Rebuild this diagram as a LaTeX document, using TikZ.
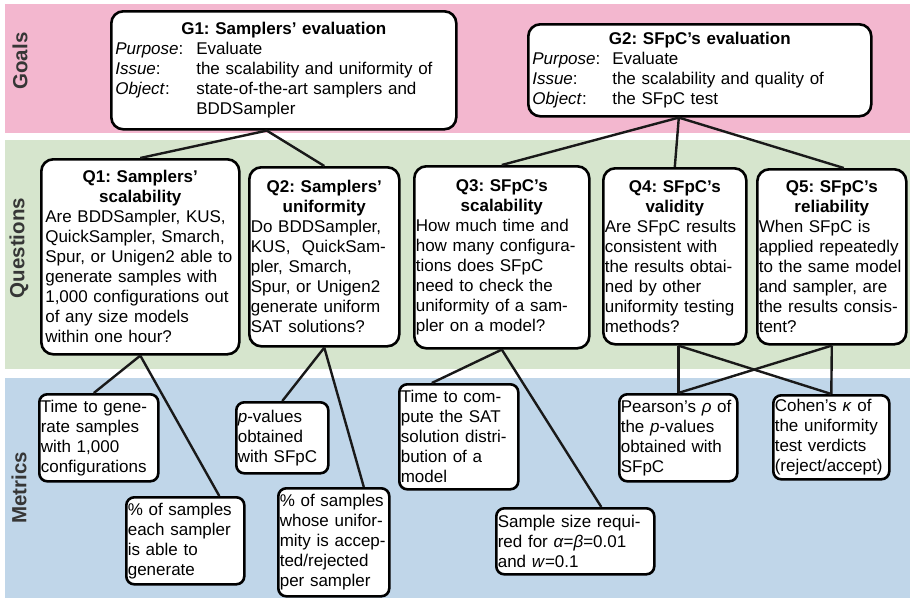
\documentclass[tikz,border=0pt]{standalone}
\usepackage{fontspec}
\setmainfont{Liberation Sans}
\definecolor{goalpink}{HTML}{F3B7CF}
\definecolor{questgreen}{HTML}{D6E5CD}
\definecolor{metricblue}{HTML}{C0D6E9}
\definecolor{bandgray}{HTML}{363636}
\usepackage{tikz}
\frenchspacing

\begin{document}
\begin{tikzpicture}[x=1pt, y=-1pt,
    font=\fontsize{17}{20}\selectfont,
    band/.style={rotate=90, text=bandgray, font=\fontsize{20.5}{24}\selectfont\bfseries},
    box/.style={draw, line width=2.6pt, rounded corners=12pt, fill=white,
      anchor=north west, inner xsep=1.5pt, inner ysep=2pt},
    mbox/.style={box, rounded corners=8pt},
    link/.style={line width=2.4pt, black!90}]
        \useasboundingbox (0,0) rectangle (910,600);
        % Bands
        \fill[goalpink] (5,4) rectangle (910,133);
        \fill[questgreen] (5,140) rectangle (910,369);
        \fill[metricblue] (5,378) rectangle (910,598);
        \node[band] (goals) at (20,61) {Goals};
        \node[band] (questions) at (19,248) {Questions};
        \node[band] (metrics) at (19,488) {Metrics};
        % Goals
        \node[box, inner xsep=4pt, text width=337pt, minimum height=118pt] (g1) at (110,10) {%
          {\centering\bfseries G1: Samplers’ evaluation\par}\raggedright
          \makebox[81pt][l]{\textit{Purpose}:}Evaluate\\
          \makebox[81pt][l]{\textit{Issue}:}the scalability and uniformity of\\
          \makebox[81pt][l]{\textit{Object}:}state-of-the-art samplers and\\
          \hspace*{81pt}BDDSampler};
        \node[box, inner xsep=4pt, text width=335pt, minimum height=92pt] (g2) at (527,23) {%
          {\centering\bfseries G2: SFpC’s evaluation\par}\raggedright
          \makebox[80pt][l]{\textit{Purpose}:}Evaluate\\
          \makebox[80pt][l]{\textit{Issue}:}the scalability and quality of\\
          \makebox[80pt][l]{\textit{Object}:}the SFpC test};
        % Questions
        \node[box, inner xsep=4pt, text width=190pt, minimum height=195pt] (q1) at (40,158) {%
          {\centering\bfseries Q1: Samplers’\\scalability\par}\raggedright
          Are BDDSampler, KUS,\\ QuickSampler, Smarch,\\ Spur, or Unigen2 able to\\
          generate samples with\\ 1,000 configurations out\\ of any size models\\ within one hour?};
        \node[box, text width=147pt, minimum height=179pt] (q2) at (248,166) {%
          {\centering\bfseries Q2: Samplers’\\uniformity\par}\raggedright
          Do BDDSampler,\\ KUS,\ \ QuickSam-\\ pler, Smarch,\\ Spur, or Unigen2\\
          generate uniform\\ SAT solutions?};
        \node[box, text width=172pt, minimum height=182pt] (q3) at (413,165) {%
          {\centering\bfseries Q3: SFpC’s\\scalability\par}\raggedright
          How much time and\\ how many configura-\\ tions does SFpC\\ need to check the\\
          uniformity of a sam-\\ pler on a model?};
        \node[box, text width=140pt, minimum height=176pt] (q4) at (602,167) {%
          {\centering\bfseries Q4: SFpC’s\\validity\par}\raggedright
          Are SFpC results\\ consistent with\\ the results obtai-\\ ned by other\\
          uniformity testing\\ methods?};
        \node[box, text width=146pt, minimum height=175pt] (q5) at (756,168) {%
          {\centering\bfseries Q5: SFpC’s\\reliability\par}\raggedright
          When SFpC is\\ applied repeatedly\\ to the same model\\ and sampler, are\\
          the results consis-\\ tent?};
        % Metrics
        \node[mbox, text width=116pt, minimum height=87pt] (m1) at (38,393) {\raggedright
          Time to gene-\\ rate samples\\ with 1,000\\ configurations};
        \node[mbox, text width=115pt, minimum height=87pt] (m2) at (125,496) {\raggedright
          \% of samples\\ each sampler\\ is able to\\ generate};
        \node[mbox, text width=89pt, minimum height=71pt] (m3) at (235,401) {\raggedright
          \textit{p}-values\\ obtained\\ with SFpC};
        \node[mbox, text width=108pt, minimum height=108pt] (m4) at (277,487) {\raggedright
          \% of samples\\ whose unifor-\\ mity is accep-\\ ted/rejected\\ per sampler};
        \node[mbox, text width=116pt, minimum height=105pt] (m5) at (398,383) {\raggedright
          Time to com-\\ pute the SAT\\ solution distri-\\ bution of a\\ model};
        \node[mbox, text width=155pt, minimum height=66pt] (m6) at (495,507) {\raggedright
          Sample size requi-\\ red for \textit{α}=\textit{β}=0.01\\ and \textit{w}=0.1};
        \node[mbox, text width=115pt, minimum height=87pt] (m7) at (618,393) {\raggedright
          Pearson’s \textit{ρ} of\\ the \textit{p}-values\\ obtained with\\ SFpC};
        \node[mbox, text width=113pt, minimum height=84pt] (m8) at (772,394) {\raggedright
          Cohen’s \textit{κ} of\\ the uniformity\\ test verdicts\\ (reject/accept)};
        % Goals to questions
        \draw[link] ([xshift=-17pt]g1.south) -- (q1.north);
        \draw[link] ([xshift=-17pt]g1.south) -- (q2.north);
        \draw[link] ([xshift=-21pt]g2.south) -- (q3.north);
        \draw[link] ([xshift=-21pt]g2.south) -- (q4.north);
        \draw[link] ([xshift=-21pt]g2.south) -- ([xshift=12pt]q5.north);
        % Questions to metrics
        \draw[link] (q1.south) -- ([xshift=-5pt]m1.north);
        \draw[link] (q1.south) -- ([xshift=34pt]m2.north);
        \draw[link] (q2.south) -- (m3.north);
        \draw[link] (q2.south) -- ([xshift=30pt]m4.north);
        \draw[link] (q3.south) -- ([xshift=-27pt]m5.north);
        \draw[link] (q3.south) -- ([xshift=26pt]m6.north);
        \draw[link] ([xshift=3.5pt]q4.south) -- (m7.north);
        \draw[link] ([xshift=3.5pt]q4.south) -- (m8.north);
        \draw[link] (q5.south) -- (m8.north);
        \draw[link] (q5.south) -- (m7.north);
      \end{tikzpicture}
\end{document}
